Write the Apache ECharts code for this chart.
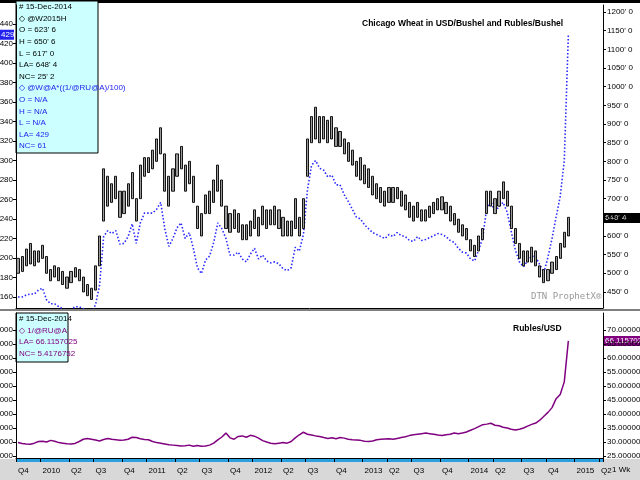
<!DOCTYPE html>
<html><head><meta charset="utf-8">
<script src="https://cdn.jsdelivr.net/npm/echarts@6/dist/echarts.min.js"></script>
<style>html,body{margin:0;padding:0;background:#fff}#c{width:640px;height:480px}</style>
</head><body><div id="c"></div>
<script>
// biweekly points, first = 2009-10-12, last data = 2014-12-15
const startDate = '2009-10-12';
const padCount = 8;
const wheatLow = [
 500,505,520,525,520,530,
 540,500,480,490,480,470,460,475,490,480,450,440,430,455,520,640,680,690,700,650,660,680,700,640,700,760,
 770,780,800,820,720,680,720,760,780,720,740,690,620,600,660,660,690,720,680,620,610,620,610,590,590,600,
 620,600,630,620,630,630,620,600,600,600,620,600,620,760,850,860,850,860,850,860,840,840,820,800,790,760,
 750,740,730,710,700,690,680,690,690,700,680,670,650,640,650,640,640,650,660,670,670,660,640,630,610,600,
 590,560,545,560,590,660,680,660,680,700,680,620,580,540,520,530,530,520,490,475,480,500,510,540,570,600
];
const wheatHigh = [
 540,545,565,580,560,560,
 575,545,510,520,515,505,490,505,515,510,490,470,460,520,600,780,760,740,760,720,720,740,770,700,790,810,
 810,830,860,890,820,760,780,820,840,790,800,760,680,660,710,720,750,790,750,680,660,670,660,630,630,640,
 670,650,680,670,670,680,670,650,640,640,700,650,700,860,920,945,920,920,910,920,890,880,860,850,830,800,
 810,790,780,760,740,730,720,730,730,730,720,710,690,680,690,670,670,680,690,700,705,690,680,660,645,630,
 620,590,575,600,620,720,720,700,720,745,720,680,620,580,560,560,570,560,520,510,510,530,545,580,610,650
];
const rublesPerBushel = [
 160,160,162,163,163,167,
 169,157,153,153,150,148,146,147,150,150,148,145,143,152,172,222,228,225,228,214,215,222,235,215,236,246,
 246,246,250,257,230,212,220,231,236,220,226,210,190,184,198,202,216,236,230,220,203,203,206,199,196,204,
 210,199,203,197,195,196,194,189,187,190,211,207,224,270,295,300,292,290,283,285,275,275,265,258,250,242,
 240,234,230,226,224,222,220,224,222,226,223,222,218,217,222,218,219,221,223,225,224,222,218,216,210,206,
 205,199,197,208,221,252,258,247,253,257,247,227,208,196,191,197,202,201,193,185,201,220,242,263,300,429
];
const rublesPerUsd = [
 29.8,29.5,29.3,29.2,29.6,30.2,
 30.3,30.0,30.6,30.3,29.8,29.6,29.4,29.3,29.5,30.2,31.0,31.3,31.0,30.7,30.4,30.9,31.3,31.0,30.8,30.6,30.7,31.0,31.7,31.6,31.2,30.9,
 30.8,30.2,29.8,29.6,29.3,29.0,28.9,28.8,28.6,28.7,28.9,28.5,28.8,28.5,28.6,28.9,29.6,30.8,31.8,33.2,31.5,31.0,32.0,32.2,31.7,32.4,
 32.1,31.4,30.5,30.0,29.6,29.4,29.6,29.8,29.6,30.2,31.5,32.6,33.5,32.8,32.5,32.2,32.0,31.6,31.3,31.5,31.2,31.6,31.4,31.0,30.8,30.7,
 30.6,30.3,30.2,30.4,30.8,31.0,31.1,31.2,31.0,31.3,31.6,31.9,32.3,32.6,32.8,33.0,33.2,33.0,32.8,32.5,32.3,32.6,32.8,33.2,33.0,33.2,
 33.6,34.2,34.8,35.5,36.2,36.4,36.7,36.0,35.8,35.3,35.0,34.6,34.3,34.6,35.0,35.7,36.3,36.8,37.8,39.2,40.6,42.3,45.5,47.0,51.5,66.1157025
];
const leftTicksTop = [160,180,200,220,240,260,280,300,320,340,360,380,400,420,440,460];
const rightTicksTop = [450,500,550,600,650,700,750,800,850,900,950,1000,1050,1100,1150,1200];
const ticksBottom = [25,30,35,40,45,50,55,60,65,70];

const dates = [];
{ const d0 = new Date(startDate + 'T00:00:00Z');
  for (let i = 0; i < wheatLow.length + padCount; i++) {
    const d = new Date(d0.getTime() + i * 14 * 86400000);
    dates.push(d.toISOString().slice(0,10));
  } }
const candle = wheatLow.map((l,i)=>[l,wheatHigh[i],l,wheatHigh[i]]);
const qOf = s => Math.floor((+s.slice(5,7)-1)/3);
function showLabel(i){ if(i===0) return true; return qOf(dates[i])!==qOf(dates[i-1]) || dates[i].slice(0,4)!==dates[i-1].slice(0,4); }
function qLabel(v){ const q=qOf(v); return q===0 ? v.slice(0,4) : 'Q'+(q+1); }

const F = 'Liberation Sans';
const chart = echarts.init(document.getElementById('c'), null, {renderer:'canvas'});
const lab = {fontSize:8, color:'#000', fontFamily:F};
chart.setOption({
  animation:false,
  backgroundColor:'#fff',
  grid:[{left:16,right:37,top:5,height:303,outerBoundsMode:'none',containLabel:false},
        {left:16,right:37,top:313,height:145,outerBoundsMode:'none',containLabel:false}],
  xAxis:[
    {type:'category',gridIndex:0,data:dates,boundaryGap:true,axisLabel:{show:false},axisTick:{show:false},axisLine:{lineStyle:{color:'#000'}}},
    {type:'category',gridIndex:1,data:dates,boundaryGap:true,
     axisLine:{lineStyle:{color:'#000'}},
     axisTick:{show:true,interval:(i)=>showLabel(i),length:4,lineStyle:{color:'#000'}},
     axisLabel:{interval:(i)=>showLabel(i),formatter:qLabel,align:'left',margin:9,hideOverlap:false,...lab}}
  ],
  yAxis:[
    {type:'value',gridIndex:0,position:'left',min:148.7,max:459.5,splitLine:{show:false},
     axisLine:{show:true,lineStyle:{color:'#000'}},axisTick:{show:true,length:3,customValues:leftTicksTop},
     axisLabel:{customValues:leftTicksTop,margin:3,...lab}},
    {type:'value',gridIndex:0,position:'right',min:407,max:1219,splitLine:{show:false},
     axisLine:{show:true,lineStyle:{color:'#000'}},axisTick:{show:true,length:3,customValues:rightTicksTop},
     axisLabel:{customValues:rightTicksTop,margin:4,formatter:v=>v+"' 0",...lab}},
    {type:'value',gridIndex:1,position:'right',min:24.3,max:76.1,splitLine:{show:false},
     axisLine:{show:true,lineStyle:{color:'#000'}},axisTick:{show:true,length:3,customValues:ticksBottom},
     axisLabel:{customValues:ticksBottom,margin:4,formatter:v=>v.toFixed(7),...lab}},
    {type:'value',gridIndex:1,position:'left',min:24.3,max:76.1,splitLine:{show:false},
     axisLine:{show:true,lineStyle:{color:'#000'}},axisTick:{show:true,length:3,customValues:ticksBottom},
     axisLabel:{customValues:ticksBottom,margin:3,formatter:v=>(v*100).toFixed(0)+'000',...lab}}
  ],
  series:[
    {type:'line',xAxisIndex:0,yAxisIndex:0,data:rublesPerBushel,showSymbol:false,
     lineStyle:{color:'#2a2aff',width:1.6,type:[1.5,2]},z:2},
    {type:'candlestick',xAxisIndex:0,yAxisIndex:1,data:candle,barWidth:'65%',
     itemStyle:{color:'#9a9a9a',color0:'#9a9a9a',borderColor:'#000',borderColor0:'#000',borderWidth:0.9},z:3},
    {type:'line',xAxisIndex:1,yAxisIndex:2,data:rublesPerUsd,showSymbol:false,
     lineStyle:{color:'#800080',width:1.5}}
  ]
});

const n = wheatLow.length-1;
const yW = chart.convertToPixel({yAxisIndex:1}, 648.5);
const yB = chart.convertToPixel({yAxisIndex:0}, rublesPerBushel[n]);
const yR = chart.convertToPixel({yAxisIndex:2}, rublesPerUsd[n]);
function tag(x,y,w,text,bg,fg){ return {type:'group',children:[
  {type:'rect',shape:{x:x,y:y-5,width:w,height:10},style:{fill:bg}},
  {type:'text',style:{x:x+1,y:y,text:text,fill:fg,font:'8px '+F,verticalAlign:'middle'}}]}; }
function box(x,y,w,h,lines){
  const ch=[{type:'rect',shape:{x:x,y:y,width:w,height:h},style:{fill:'#ccffff',stroke:'#000',lineWidth:1}}];
  lines.forEach((l,i)=>ch.push({type:'text',style:{x:x+3,y:y+6+i*11.6,text:l[0],fill:l[1],font:'8px '+F,verticalAlign:'middle'}}));
  return {type:'group',children:ch};
}
const blk='#000', blu='#2222ee', pur='#800080';
chart.setOption({graphic:[
  {type:'rect',shape:{x:0,y:0,width:640,height:3},style:{fill:'#000'}},
  {type:'rect',shape:{x:0,y:459,width:640,height:21},style:{fill:'#d8d8d8'},z:-1},
  {type:'rect',shape:{x:16,y:458,width:587,height:4},style:{fill:'#2aa0e0'}},
  {type:'line',shape:{x1:0,y1:310,x2:640,y2:310},style:{stroke:'#000',lineWidth:1}},
  {type:'text',style:{x:612,y:470,text:'1 Wk',fill:'#000',font:'8px '+F,verticalAlign:'middle'}},
  box(16,1,82,152,[['# 15-Dec-2014',blk],['\u25C7 @W2015H',blk],["O = 623' 6",blk],["H = 650' 6",blk],["L = 617' 0",blk],["LA= 648' 4",blk],["NC= 25' 2",blk],
    ['\u25C7 @W@A*((1/@RU@A)/100)',blu],['O = N/A',blu],['H = N/A',blu],['L = N/A',blu],['LA= 429',blu],['NC= 61',blu]]),
  box(16,313,52,49,[['# 15-Dec-2014',blk],['\u25C7 1/@RU@A',pur],['LA= 66.1157025',pur],['NC= 5.4176752',pur]]),
  tag(0,yB,14,'429','#2222ee','#fff'),
  tag(604,yW,36,"648' 4",'#000','#fff'),
  tag(604,yR,36,'66.1157025','#800080','#fff'),
  {type:'text',style:{x:362,y:24,text:'Chicago Wheat in USD/Bushel and Rubles/Bushel',fill:'#000',font:'bold 8.5px '+F,verticalAlign:'middle'}},
  {type:'text',style:{x:513,y:329,text:'Rubles/USD',fill:'#000',font:'bold 8.5px '+F,verticalAlign:'middle'}},
  {type:'text',style:{x:531,y:297,text:'DTN ProphetX\u00AE',fill:'#999',font:'9px "DejaVu Sans Mono"',verticalAlign:'middle'}}
]});
</script></body></html>
